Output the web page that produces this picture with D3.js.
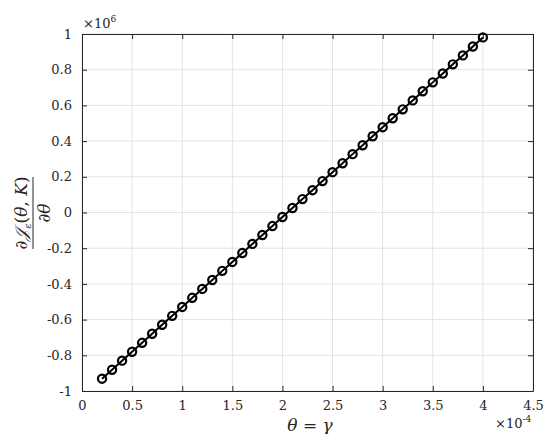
<!DOCTYPE html>
<html><head><meta charset="utf-8">
<script src="https://cdn.jsdelivr.net/npm/d3@7"></script>
<style>body{margin:0;background:#fff}svg{display:block}
text{font-family:"DejaVu Serif",serif}</style>
</head><body>
<svg id="c" width="550" height="434"></svg>
<script>
// theta values (units of 1e-4)
const thetaVals = [0.2,0.3,0.4,0.5,0.6,0.7,0.8,0.9,1.0,1.1,1.2,1.3,1.4,1.5,1.6,1.7,1.8,1.9,2.0,2.1,2.2,2.3,2.4,2.5,2.6,2.7,2.8,2.9,3.0,3.1,3.2,3.3,3.4,3.5,3.6,3.7,3.8,3.9,4.0];
// derivative values (units of 1e6)
const derivVals = [-0.931,-0.881,-0.830,-0.780,-0.730,-0.679,-0.629,-0.579,-0.529,-0.478,-0.428,-0.378,-0.327,-0.277,-0.227,-0.176,-0.126,-0.076,-0.025,0.025,0.075,0.125,0.176,0.226,0.276,0.327,0.377,0.427,0.478,0.528,0.578,0.628,0.679,0.729,0.779,0.830,0.880,0.930,0.981];
const xTicks = [0,0.5,1,1.5,2,2.5,3,3.5,4,4.5];
const xTickLabels = ["0","0.5","1","1.5","2","2.5","3","3.5","4","4.5"];
const yTicks = [-1,-0.8,-0.6,-0.4,-0.2,0,0.2,0.4,0.6,0.8,1];
const yTickLabels = ["-1","-0.8","-0.6","-0.4","-0.2","0","0.2","0.4","0.6","0.8","1"];

const svg = d3.select("#c");
const L=82,R=533,T=34,B=391;
const x = d3.scaleLinear().domain([0,4.5]).range([L,R]);
const y = d3.scaleLinear().domain([-1,1]).range([B,T]);
const font = "DejaVu Serif";
const axisCol = "#262626";

// grid
const g = svg.append("g");
g.selectAll(".gx").data(xTicks).join("line")
 .attr("x1",d=>x(d)).attr("x2",d=>x(d)).attr("y1",T).attr("y2",B)
 .attr("stroke","#e3e3e3").attr("stroke-width",1);
g.selectAll(".gy").data(yTicks).join("line")
 .attr("y1",d=>y(d)).attr("y2",d=>y(d)).attr("x1",L).attr("x2",R)
 .attr("stroke","#e3e3e3").attr("stroke-width",1);

// axes
const tl = 5;
const xb = svg.append("g").attr("transform",`translate(0,${B})`)
 .call(d3.axisBottom(x).tickValues(xTicks).tickFormat((d,i)=>xTickLabels[i]).tickSizeInner(-tl).tickSizeOuter(0).tickPadding(10));
const xt = svg.append("g").attr("transform",`translate(0,${T})`)
 .call(d3.axisTop(x).tickValues(xTicks).tickFormat("").tickSizeInner(-tl).tickSizeOuter(0));
const yl = svg.append("g").attr("transform",`translate(${L},0)`)
 .call(d3.axisLeft(y).tickValues(yTicks).tickFormat((d,i)=>yTickLabels[i]).tickSizeInner(-tl).tickSizeOuter(0).tickPadding(10));
const yr = svg.append("g").attr("transform",`translate(${R},0)`)
 .call(d3.axisRight(y).tickValues(yTicks).tickFormat("").tickSizeInner(-tl).tickSizeOuter(0));
[xb,xt,yl,yr].forEach(a=>{
  a.attr("font-family",font).attr("font-size",13);
  a.select(".domain").attr("stroke",axisCol).attr("stroke-width",1);
  a.selectAll(".tick line").attr("stroke",axisCol);
  a.selectAll(".tick text").attr("fill",axisCol);
});

// line + markers
const pts = thetaVals.map((t,i)=>[t,derivVals[i]]);
svg.append("path").datum(pts)
 .attr("d",d3.line().x(d=>x(d[0])).y(d=>y(d[1])))
 .attr("fill","none").attr("stroke","#000").attr("stroke-width",2);
svg.selectAll(".m").data(pts).join("circle")
 .attr("cx",d=>x(d[0])).attr("cy",d=>y(d[1])).attr("r",4.1)
 .attr("fill","none").attr("stroke","#000").attr("stroke-width",2.2);

// exponent labels
const e1 = svg.append("text").attr("x",83).attr("y",28).attr("fill",axisCol)
 .attr("font-size",13);
e1.append("tspan").text("×10");
e1.append("tspan").attr("dy",-6).attr("font-size",9).text("6");
const e2 = svg.append("text").attr("x",495).attr("y",428).attr("fill",axisCol)
 .attr("font-size",13);
e2.append("tspan").text("×10");
e2.append("tspan").attr("dy",-6).attr("font-size",9).text("-4");

// x label
const xlab = svg.append("text").attr("x",310).attr("y",431).attr("text-anchor","middle")
 .attr("fill",axisCol).attr("font-size",17);
xlab.append("tspan").attr("font-style","italic").text("θ");
xlab.append("tspan").text(" = ");
xlab.append("tspan").attr("font-style","italic").text("γ");

// y label (fraction), rotated
const yg = svg.append("g").attr("transform","translate(33,213) rotate(-90)").attr("fill",axisCol);
const num = yg.append("text").attr("x",0).attr("y",-6).attr("text-anchor","middle").attr("font-size",17);
num.append("tspan").text("∂");
num.append("tspan").attr("font-style","italic").text("𝒥");
num.append("tspan").attr("dy",4).attr("font-size",10).attr("font-style","italic").text("ε");
num.append("tspan").attr("dy",-4).text("(");
num.append("tspan").attr("font-style","italic").text("θ");
num.append("tspan").text(", ");
num.append("tspan").attr("font-style","italic").text("K");
num.append("tspan").text(")");
yg.append("line").attr("x1",-36).attr("x2",36).attr("y1",0).attr("y2",0).attr("stroke",axisCol).attr("stroke-width",1);
const den = yg.append("text").attr("x",0).attr("y",17).attr("text-anchor","middle").attr("font-size",17);
den.append("tspan").text("∂");
den.append("tspan").attr("font-style","italic").text("θ");
</script>
</body></html>
